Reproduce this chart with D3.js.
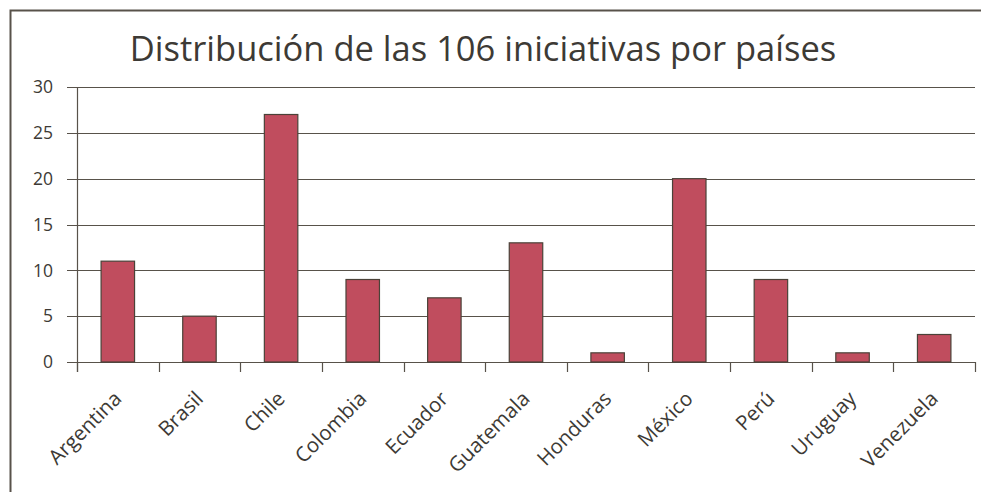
<!DOCTYPE html>
<html lang="es">
<head>
<meta charset="UTF-8">
<script src="https://d3js.org/d3.v7.min.js"></script>
<title>Distribución por países</title>
<style>
  body { margin: 0; background: #fff; }
  text { font-family: "Open Sans", "Noto Sans", sans-serif; fill: #3d3a35; }
</style>
</head>
<body>
<div id="chart"></div>
<script>
// datos
var paises = ['Argentina', 'Brasil', 'Chile', 'Colombia', 'Ecuador', 'Guatemala',
              'Honduras', 'México', 'Perú', 'Uruguay', 'Venezuela'];
var iniciativas = [11, 5, 27, 9, 7, 13, 1, 20, 9, 1, 3];
var yTicks = [0, 5, 10, 15, 20, 25, 30];

var width = 981, height = 492;
var plotLeft = 77, plotRight = 975, plotTop = 87, plotBottom = 362;
var ink = '#58524a';

var svg = d3.select('#chart').append('svg')
    .attr('width', width)
    .attr('height', height);

// marco
svg.append('path')
    .attr('d', 'M10.5,' + height + 'V10.5H' + width)
    .attr('fill', 'none')
    .attr('stroke', ink)
    .attr('stroke-width', 2);

svg.append('text')
    .attr('x', 483)
    .attr('y', 61)
    .attr('text-anchor', 'middle')
    .style('font-size', '34.5px')
    .text('Distribución de las 106 iniciativas por países');

var x = d3.scaleBand()
    .domain(paises)
    .range([plotLeft, plotRight])
    .paddingInner(0.59)
    .paddingOuter(0.295);

var y = d3.scaleLinear()
    .domain([0, 30])
    .range([plotBottom, plotTop]);

// cuadrícula
svg.append('g')
    .selectAll('line')
    .data(yTicks)
    .enter()
    .append('line')
    .attr('x1', plotLeft - 10)
    .attr('x2', plotRight)
    .attr('y1', function(d) { return Math.round(y(d)) + 0.5; })
    .attr('y2', function(d) { return Math.round(y(d)) + 0.5; })
    .attr('stroke', ink)
    .attr('stroke-width', 1.2);

svg.append('g')
    .selectAll('text')
    .data(yTicks)
    .enter()
    .append('text')
    .attr('x', plotLeft - 24)
    .attr('y', function(d) { return y(d); })
    .attr('dy', '0.36em')
    .attr('text-anchor', 'end')
    .style('font-size', '17.5px')
    .text(function(d) { return d; });

// eje y
svg.append('line')
    .attr('x1', plotLeft + 0.5).attr('x2', plotLeft + 0.5)
    .attr('y1', plotTop).attr('y2', plotBottom + 10)
    .attr('stroke', ink)
    .attr('stroke-width', 1.2);

// marcas del eje x
var step = x.step();
svg.append('g')
    .selectAll('line')
    .data(d3.range(paises.length + 1))
    .enter()
    .append('line')
    .attr('x1', function(i) { return Math.round(plotLeft + i * step) + 0.5; })
    .attr('x2', function(i) { return Math.round(plotLeft + i * step) + 0.5; })
    .attr('y1', plotBottom)
    .attr('y2', plotBottom + 10)
    .attr('stroke', ink)
    .attr('stroke-width', 1.2);

// barras
svg.append('g')
    .selectAll('rect')
    .data(iniciativas)
    .enter()
    .append('rect')
    .attr('x', function(d, i) { return x(paises[i]); })
    .attr('y', function(d) { return y(d); })
    .attr('width', x.bandwidth())
    .attr('height', function(d) { return plotBottom - y(d); })
    .attr('fill', '#c04d5e')
    .attr('stroke', '#4a4238')
    .attr('stroke-width', 1.2);

// etiquetas
svg.append('g')
    .selectAll('text')
    .data(paises)
    .enter()
    .append('text')
    .attr('text-anchor', 'end')
    .attr('transform', function(d) {
        return 'translate(' + (x(d) + x.bandwidth() / 2 + 5) + ',' + 400 + ') rotate(-45)';
    })
    .style('font-size', '20.5px')
    .text(function(d) { return d; });
</script>
</body>
</html>
